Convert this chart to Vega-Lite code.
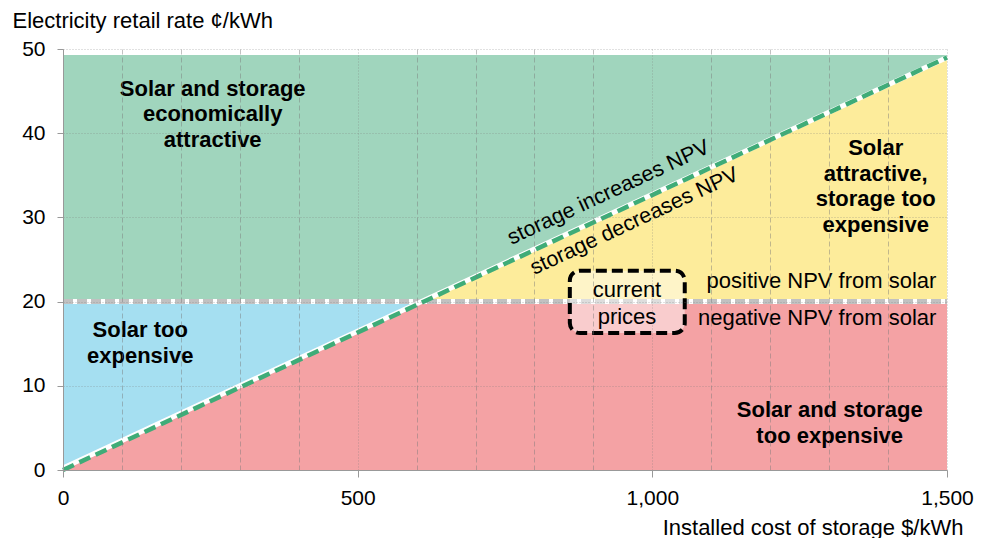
{
  "$schema": "https://vega.github.io/schema/vega-lite/v6.json",
  "width": 884,
  "height": 421,
  "autosize": "none",
  "padding": {"left": 63, "top": 49, "right": 37, "bottom": 68},
  "background": "white",
  "config": {"view": {"stroke": null}, "font": "Liberation Sans"},
  "datasets": {
    "regions": [
      {"region": "green", "cost": 0, "low": 20, "high": 49.3},
      {"region": "green", "cost": 612, "low": 20, "high": 49.3},
      {"region": "green", "cost": 1500, "low": 49, "high": 49.3},
      {"region": "blue", "cost": 0, "low": 0, "high": 20},
      {"region": "blue", "cost": 612, "low": 20, "high": 20},
      {"region": "red", "cost": 0, "low": 0, "high": 0},
      {"region": "red", "cost": 612, "low": 0, "high": 20},
      {"region": "red", "cost": 1500, "low": 0, "high": 20},
      {"region": "yellow", "cost": 612, "low": 20, "high": 20},
      {"region": "yellow", "cost": 1500, "low": 20, "high": 49}
    ],
    "solarLine": [{"cost": 0, "rate": 20, "cost2": 1500, "rate2": 20}],
    "storageLine": [{"cost": 0, "rate": 0, "cost2": 1500, "rate2": 49}],
    "box": [{"cost": 860, "rate": 23.67, "cost2": 1055, "rate2": 16.27}],
    "boldLabels": [
      {"label": "Solar and storage\neconomically\nattractive", "cost": 254, "rate": 45.25},
      {"label": "Solar too\nexpensive", "cost": 131, "rate": 16.6},
      {"label": "Solar\nattractive,\nstorage too\nexpensive", "cost": 1379, "rate": 38.2},
      {"label": "Solar and storage\ntoo expensive", "cost": 1301, "rate": 7.1}
    ],
    "rightLabels": [
      {"label": "positive NPV from solar", "cost": 1482, "rate": 22.4},
      {"label": "negative NPV from solar", "cost": 1482, "rate": 18.05}
    ],
    "boxLabel": [{"label": "current\nprices", "cost": 957, "rate": 21.4}],
    "slopeLabels": [
      {"label": "storage increases NPV", "cost": 926, "rate": 32.9},
      {"label": "storage decreases NPV", "cost": 970, "rate": 29.5}
    ]
  },
  "layer": [
    {
      "data": {"name": "regions"},
      "mark": {"type": "area", "opacity": 1},
      "encoding": {
        "x": {
          "field": "cost", "type": "quantitative",
          "scale": {"domain": [0, 1500], "nice": false},
          "axis": {
            "values": [0, 100, 200, 300, 400, 500, 600, 700, 800, 900, 1000, 1100, 1200, 1300, 1400, 1500],
            "title": "Installed cost of storage $/kWh",
            "titleFontSize": 22, "titleFontWeight": "normal", "titleColor": "#000",
            "titleAlign": "right", "titleBaseline": "alphabetic", "titleX": 900, "titleY": 64,
            "labelExpr": "datum.value % 500 === 0 ? format(datum.value, ',') : ''",
            "labelFontSize": 21, "labelColor": "#000", "labelPadding": 10, "labelFlush": false, "labelOverlap": false,
            "tickSize": 7, "tickColor": "#999",
            "tickOpacity": {"condition": {"test": "datum.value % 500 === 0", "value": 1}, "value": 0},
            "domainColor": "#999",
            "grid": true, "gridColor": "#777", "gridOpacity": 0.45,
            "gridDash": {"condition": {"test": "datum.value % 500 === 0", "value": [1, 2]}, "value": [5, 3]},
            "zindex": 1
          }
        },
        "y": {
          "field": "low", "type": "quantitative",
          "scale": {"domain": [0, 50], "nice": false},
          "axis": {
            "values": [0, 10, 20, 30, 40, 50],
            "title": "Electricity retail rate ¢/kWh",
            "titleAngle": 0, "titleAlign": "left", "titleBaseline": "alphabetic",
            "titleX": -51, "titleY": -22, "titleFontSize": 22, "titleFontWeight": "normal", "titleColor": "#000",
            "labelFontSize": 21, "labelColor": "#000", "labelPadding": 12,
            "tickSize": 6, "tickColor": "#999", "domainColor": "#999",
            "grid": true, "gridColor": "#777", "gridOpacity": 0.45, "gridDash": [1, 2],
            "zindex": 1
          }
        },
        "y2": {"field": "high"},
        "color": {
          "field": "region", "type": "nominal",
          "scale": {"domain": ["green", "blue", "red", "yellow"], "range": ["#a0d5bd", "#a5dff1", "#f4a2a4", "#fdec9b"]},
          "legend": null
        }
      }
    },
    {
      "data": {"name": "solarLine"},
      "mark": {"type": "rule", "color": "white", "strokeWidth": 5},
      "encoding": {
        "x": {"field": "cost", "type": "quantitative"},
        "x2": {"field": "cost2"},
        "y": {"field": "rate", "type": "quantitative"},
        "y2": {"field": "rate2"}
      }
    },
    {
      "data": {"name": "solarLine"},
      "mark": {"type": "rule", "color": "#c1c1c1", "strokeWidth": 5, "strokeDash": [10, 4]},
      "encoding": {
        "x": {"field": "cost", "type": "quantitative"},
        "x2": {"field": "cost2"},
        "y": {"field": "rate", "type": "quantitative"},
        "y2": {"field": "rate2"}
      }
    },
    {
      "data": {"name": "storageLine"},
      "mark": {"type": "rule", "color": "white", "strokeWidth": 5, "yOffset": -2},
      "encoding": {
        "x": {"field": "cost", "type": "quantitative"},
        "x2": {"field": "cost2"},
        "y": {"field": "rate", "type": "quantitative"},
        "y2": {"field": "rate2"}
      }
    },
    {
      "data": {"name": "storageLine"},
      "mark": {"type": "rule", "color": "#3fac78", "strokeWidth": 4.5, "strokeDash": [12, 6]},
      "encoding": {
        "x": {"field": "cost", "type": "quantitative"},
        "x2": {"field": "cost2"},
        "y": {"field": "rate", "type": "quantitative"},
        "y2": {"field": "rate2"}
      }
    },
    {
      "data": {"name": "box"},
      "mark": {"type": "rect", "fill": "white", "fillOpacity": 0.45, "stroke": "black", "strokeWidth": 4, "strokeDash": [11, 5], "cornerRadius": 10},
      "encoding": {
        "x": {"field": "cost", "type": "quantitative"},
        "x2": {"field": "cost2"},
        "y": {"field": "rate", "type": "quantitative"},
        "y2": {"field": "rate2"}
      }
    },
    {
      "data": {"name": "boldLabels"},
      "mark": {"type": "text", "fontSize": 22, "fontWeight": "bold", "color": "black", "align": "center", "baseline": "middle", "lineBreak": "\n", "lineHeight": 25.5},
      "encoding": {
        "x": {"field": "cost", "type": "quantitative"},
        "y": {"field": "rate", "type": "quantitative"},
        "text": {"field": "label"}
      }
    },
    {
      "data": {"name": "rightLabels"},
      "mark": {"type": "text", "fontSize": 22, "color": "black", "align": "right", "baseline": "middle"},
      "encoding": {
        "x": {"field": "cost", "type": "quantitative"},
        "y": {"field": "rate", "type": "quantitative"},
        "text": {"field": "label"}
      }
    },
    {
      "data": {"name": "boxLabel"},
      "mark": {"type": "text", "fontSize": 22, "color": "black", "align": "center", "baseline": "middle", "lineBreak": "\n", "lineHeight": 27},
      "encoding": {
        "x": {"field": "cost", "type": "quantitative"},
        "y": {"field": "rate", "type": "quantitative"},
        "text": {"field": "label"}
      }
    },
    {
      "data": {"name": "slopeLabels"},
      "mark": {"type": "text", "fontSize": 21.5, "color": "black", "align": "center", "baseline": "middle", "angle": -25},
      "encoding": {
        "x": {"field": "cost", "type": "quantitative"},
        "y": {"field": "rate", "type": "quantitative"},
        "text": {"field": "label"}
      }
    }
  ]
}
